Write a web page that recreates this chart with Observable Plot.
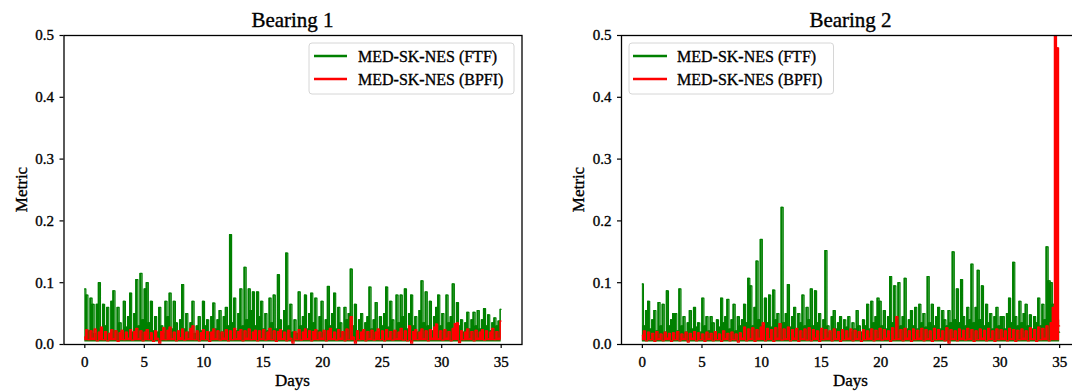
<!DOCTYPE html>
<html>
<head>
<meta charset="utf-8">
<script src="https://cdn.jsdelivr.net/npm/d3@7"></script>
<script src="https://cdn.jsdelivr.net/npm/@observablehq/plot@0.6"></script>
<style>
  html, body { margin: 0; padding: 0; background: #fff; overflow: hidden; }
  #wrap { position: relative; width: 1072px; height: 392px; overflow: hidden; background: #fff; }
  .panel { position: absolute; top: 0; }
  #overlay { position: absolute; left: 0; top: 0; pointer-events: none; }
  text { font-family: "Liberation Serif", "Times New Roman", serif; paint-order: stroke; stroke: black; stroke-width: 0.35px; }
  .panel g[aria-label="y-axis tick label"] text, .panel g[aria-label="x-axis tick label"] text { stroke: black; stroke-width: 0.35px; }
</style>
</head>
<body>
<div id="wrap"></div>
<script>
// ---------- data ----------
const panelTitles = ["Bearing 1", "Bearing 2"];
const seriesNames = ["MED-SK-NES (FTF)", "MED-SK-NES (BPFI)"];
const xTicks = [0, 5, 10, 15, 20, 25, 30, 35];
const yTicks = [0.0, 0.1, 0.2, 0.3, 0.4, 0.5];
const xLabel = "Days";
const yLabel = "Metric";

// Bearing 1, FTF metric (green), sampled evenly over days 0..35
const green1 = [
  .090,.080,.022,.075,.065,.018,.065,.100,.025,.065,
  .030,.060,.018,.070,.087,.022,.060,.035,.020,.070,
  .028,.045,.083,.020,.050,.105,.030,.115,.040,.090,
  .100,.035,.070,.022,.045,.020,.060,.030,.018,.070,
  .045,.083,.025,.070,.035,.018,.040,.097,.025,.050,
  .020,.035,.070,.018,.030,.045,.022,.070,.030,.040,
  .020,.045,.067,.025,.040,.055,.020,.045,.060,.030,
  .178,.035,.075,.022,.050,.090,.030,.125,.040,.090,
  .055,.085,.030,.085,.045,.070,.025,.050,.022,.075,
  .035,.080,.025,.113,.040,.022,.055,.148,.030,.065,
  .020,.040,.018,.085,.030,.045,.080,.025,.050,.083,
  .035,.075,.022,.045,.070,.020,.040,.094,.030,.050,
  .083,.025,.060,.035,.020,.060,.040,.050,.122,.030,
  .065,.022,.040,.050,.018,.035,.045,.093,.025,.040,
  .068,.020,.045,.030,.050,.093,.028,.070,.040,.022,
  .080,.035,.080,.045,.090,.025,.050,.080,.030,.045,
  .020,.055,.103,.035,.085,.030,.070,.022,.045,.060,
  .080,.030,.050,.022,.080,.035,.045,.098,.025,.068,
  .030,.040,.020,.035,.052,.025,.040,.052,.030,.055,
  .025,.040,.058,.030,.048,.022,.035,.043,.030,.038,
  .057
];
// Bearing 1, BPFI metric (red)
const red1 = [
  .012,.024,.008,.022,.010,.025,.006,.020,.028,.008,
  .021,.006,.018,.024,.009,.022,.005,.019,.023,.008,
  .020,.010,.024,.007,.021,.026,.009,.022,.006,.020,
  .024,.008,.019,.005,.022,.010,.002,.021,.027,.008,
  .023,.028,.009,.020,.006,.022,.011,.025,.007,.020,
  .009,.026,.030,.008,.022,.006,.019,.024,.008,.021,
  .005,.020,.025,.009,.022,.007,.020,.010,.024,.006,
  .022,.008,.026,.009,.021,.024,.006,.022,.010,.025,
  .008,.020,.023,.006,.022,.009,.024,.007,.020,.026,
  .008,.022,.005,.021,.024,.009,.020,.006,.023,.010,
  .002,.021,.008,.024,.007,.020,.025,.009,.022,.006,
  .021,.024,.008,.020,.010,.023,.006,.022,.026,.009,
  .020,.007,.024,.010,.021,.006,.025,.008,.045,.012,
  .002,.022,.008,.020,.024,.006,.021,.009,.023,.007,
  .020,.025,.008,.022,.006,.024,.010,.021,.007,.023,
  .009,.020,.026,.007,.022,.006,.030,.002,.021,.024,
  .008,.020,.025,.009,.022,.006,.024,.010,.028,.033,
  .009,.022,.007,.024,.010,.021,.006,.026,.034,.035,
  .003,.022,.008,.020,.025,.009,.021,.006,.023,.010,
  .020,.024,.007,.022,.009,.020,.026,.008,.021,.010,
  .038
];
// Bearing 2, FTF metric (green)
const green2 = [
  .098,.030,.055,.070,.025,.040,.055,.022,.068,.030,
  .065,.020,.087,.030,.040,.050,.050,.022,.090,.030,
  .045,.020,.035,.055,.025,.060,.028,.035,.020,.075,
  .030,.045,.022,.045,.035,.020,.040,.028,.075,.035,
  .045,.073,.025,.040,.065,.022,.045,.030,.040,.065,
  .035,.107,.095,.030,.060,.135,.040,.170,.030,.075,
  .035,.080,.028,.088,.040,.050,.025,.222,.035,.050,
  .097,.028,.045,.060,.025,.050,.035,.080,.030,.060,
  .040,.090,.030,.087,.035,.050,.022,.040,.152,.030,
  .020,.045,.055,.025,.035,.045,.022,.040,.028,.045,
  .020,.035,.025,.055,.030,.020,.040,.030,.065,.025,
  .070,.035,.045,.075,.070,.030,.055,.025,.045,.110,
  .035,.095,.040,.100,.030,.045,.107,.025,.040,.055,
  .030,.060,.025,.065,.035,.050,.028,.110,.035,.065,
  .030,.045,.060,.025,.055,.040,.030,.055,.035,.150,
  .040,.090,.035,.105,.045,.030,.060,.040,.130,.035,
  .060,.120,.040,.095,.030,.065,.035,.050,.025,.045,
  .060,.030,.045,.045,.025,.050,.075,.035,.133,.045,
  .030,.070,.035,.050,.065,.030,.048,.025,.045,.035,
  .075,.030,.065,.040,.158,.103,.100,.065,.030,.040,
  .020
];
// Bearing 2, BPFI metric (red) - failure spike at the end
const red2 = [
  .015,.022,.006,.020,.008,.018,.005,.021,.009,.017,
  .006,.020,.010,.018,.005,.019,.008,.021,.006,.017,
  .009,.020,.004,.018,.010,.021,.006,.019,.008,.017,
  .005,.020,.009,.018,.006,.021,.008,.017,.005,.022,
  .009,.018,.006,.020,.008,.017,.004,.019,.010,.028,
  .006,.025,.009,.027,.005,.024,.010,.028,.035,.006,
  .026,.009,.024,.005,.027,.010,.034,.007,.025,.009,
  .028,.006,.024,.010,.026,.005,.022,.009,.025,.007,
  .027,.006,.024,.010,.022,.005,.026,.008,.024,.010,
  .022,.006,.025,.009,.021,.005,.024,.008,.022,.010,
  .025,.006,.023,.009,.021,.005,.024,.008,.022,.010,
  .025,.006,.023,.009,.026,.007,.024,.010,.022,.005,
  .027,.008,.045,.009,.024,.006,.026,.010,.022,.005,
  .025,.008,.023,.010,.026,.006,.024,.009,.022,.005,
  .026,.008,.024,.010,.022,.006,.027,.002,.024,.009,
  .022,.006,.025,.010,.023,.007,.026,.009,.024,.005,
  .022,.008,.025,.010,.023,.006,.026,.009,.022,.005,
  .025,.008,.024,.010,.022,.006,.026,.009,.024,.005,
  .023,.008,.025,.010,.022,.006,.027,.009,.024,.005,
  .028,.008,.026,.010,.030,.006,.035,.060,.520,.480,
  .030
];
// lower edge of each dense trace (its floor)
const greenFloor = 0.004;
const redFloor = 0.006;
const seriesColors = ["green", "red"];

// ---------- build ----------
const toRows = (vals) => vals.map((v, i) => ({day: (i * 35) / (vals.length - 1), metric: v}));

const W = 1072, H = 392;
const panels = [
  {left: 0, width: 540, mL: 63.5, mR: 18.5, green: green1, red: red1, title: panelTitles[0],
   legend: {x0: 309, x1: 514, lx0: 314, lx1: 347, tx: 358}},
  {left: 540, width: 560, mL: 81, mR: 20, green: green2, red: red2, title: panelTitles[1],
   legend: {x0: 629, x1: 833.5, lx0: 633, lx1: 667, tx: 677}}
];
const mT = 35, mB = 48;

const wrap = document.getElementById("wrap");

panels.forEach((p) => {
  const gRows = toRows(p.green), rRows = toRows(p.red);
  const chart = Plot.plot({
    width: p.width,
    height: H,
    marginLeft: p.mL,
    marginRight: p.mR,
    marginTop: mT,
    marginBottom: mB,
    x: {domain: [-1.75, 36.75]},
    y: {domain: [0, 0.5]},
    style: {fontFamily: '"Liberation Serif", "Times New Roman", serif', fontSize: "15px", color: "black", background: "transparent", overflow: "visible"},
    marks: [
      Plot.areaY(gRows, {x: "day", y1: greenFloor, y2: "metric", fill: seriesColors[0], curve: "step", clip: true}),
      Plot.lineY(gRows, {x: "day", y: "metric", stroke: seriesColors[0], strokeWidth: 1.2, curve: "step", clip: true}),
      Plot.areaY(rRows, {x: "day", y1: redFloor, y2: "metric", fill: seriesColors[1], curve: "step", clip: true}),
      Plot.lineY(rRows, {x: "day", y: "metric", stroke: seriesColors[1], strokeWidth: 1.2, curve: "step", clip: true}),
      Plot.frame({stroke: "black", strokeWidth: 1.3}),
      Plot.axisX({ticks: xTicks, tickSize: 4, tickPadding: 8, label: null, tickFormat: d3.format("d"), stroke: "black", strokeWidth: 1.2, fontSize: 15}),
      Plot.axisY({ticks: yTicks, tickSize: 4, tickPadding: 6, label: null, tickFormat: d3.format(".1f"), stroke: "black", strokeWidth: 1.2, fontSize: 15})
    ]
  });
  chart.classList.add("panel");
  chart.style.left = p.left + "px";
  wrap.appendChild(chart);
});

// overlay: titles, axis labels, legends
const svgNS = "http://www.w3.org/2000/svg";
const overlay = d3.select(wrap).append("svg")
  .attr("id", "overlay").attr("width", W).attr("height", H).attr("xmlns", svgNS);

panels.forEach((p) => {
  const fx0 = p.left + p.mL, fx1 = p.left + p.width - p.mR;
  const cx = (fx0 + fx1) / 2;
  const cy = (mT + (H - mB)) / 2;
  overlay.append("text").attr("x", cx).attr("y", 27).attr("text-anchor", "middle")
    .attr("font-size", 21).attr("fill", "black").text(p.title);
  overlay.append("text").attr("x", cx).attr("y", 386).attr("text-anchor", "middle")
    .attr("font-size", 17).attr("fill", "black").text(xLabel);
  overlay.append("text").attr("transform", `translate(${fx0 - 37},${cy}) rotate(-90)`)
    .attr("text-anchor", "middle").attr("font-size", 17).attr("fill", "black").text(yLabel);

  const L = p.legend;
  const g = overlay.append("g");
  g.append("rect").attr("x", L.x0).attr("y", 43).attr("width", L.x1 - L.x0).attr("height", 51)
    .attr("rx", 3).attr("fill", "white").attr("fill-opacity", 0.85).attr("stroke", "#d6d6d6").attr("stroke-width", 1);
  seriesNames.forEach((name, i) => {
    const y = 56 + i * 23;
    g.append("line").attr("x1", L.lx0).attr("x2", L.lx1).attr("y1", y).attr("y2", y)
      .attr("stroke", seriesColors[i]).attr("stroke-width", 2.4);
    g.append("text").attr("x", L.tx).attr("y", y + 5.5).attr("font-size", 16).attr("fill", "black").text(name);
  });
});
</script>
</body>
</html>
